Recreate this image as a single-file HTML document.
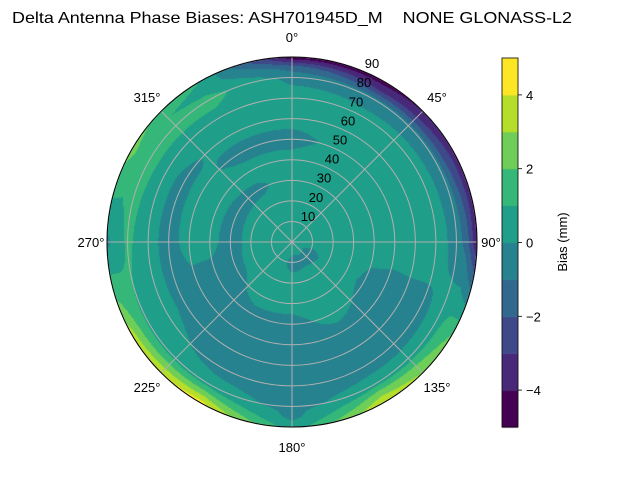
<!DOCTYPE html>
<html><head><meta charset="utf-8"><style>
body{margin:0;background:#fff;width:640px;height:480px;overflow:hidden;position:relative;font-family:"Liberation Sans",sans-serif}
canvas,svg{position:absolute;left:0;top:0}
</style></head><body>
<canvas id="cv" width="640" height="480"></canvas>
<svg id="sv" width="640" height="480"></svg>
<script>
// azimuth grid (deg, clockwise from top) and zenith grid (deg)
const azimuths=[0,30,60,90,120,150,180,210,240,270,300,330];
const zeniths=[0,10,20,30,40,50,60,70,80,85,90];
// bias values (mm) per azimuth row, across zeniths
const biasAz0  =[0.5,0.5,0.5,0.5,0.4,-0.4,0.4,0.5,-0.3,-1.5,-4.8];
const biasAz30 =[0.5,0.5,0.5,0.5,0.5,0.4,0.4,0.3,-0.5,-3.0,-4.5];
const biasAz60 =[0.5,0.5,0.5,0.5,0.5,0.5,0.5,0.4,-0.5,-2.5,-3.5];
const biasAz90 =[0.5,0.4,0.4,0.5,0.5,0.5,0.5,0.4,-0.3,-1.5,-4.0];
const biasAz120=[0.5,-0.3,0.3,0.5,-0.3,-0.5,-0.4,-0.3,0.4,1.5,2.0];
const biasAz150=[0.5,-0.2,0.4,0.5,0.4,-0.4,-0.5,-0.5,0.5,2.5,4.0];
const biasAz180=[0.5,-0.3,0.3,0.4,-0.4,-0.5,-0.5,-0.3,-0.3,-0.3,0.4];
const biasAz210=[0.5,0.3,0.4,0.4,-0.3,-0.5,-0.5,-0.4,0.5,2.5,4.5];
const biasAz240=[0.5,0.4,0.4,-0.3,-0.5,-0.5,-0.3,0.4,0.8,2.0,3.5];
const biasAz270=[0.5,0.4,0.3,-0.4,0.3,0.4,-0.4,0.4,1.2,0.5,-0.3];
const biasAz300=[0.5,0.4,0.3,-0.3,0.3,0.4,-0.3,0.4,1.5,1.5,2.5];
const biasAz330=[0.5,0.4,0.4,-0.2,0.4,-0.4,0.4,0.6,1.4,0.6,1.0];
const levels=[-5,-4,-3,-2,-1,0,1,2,3,4,5];
const colorbarTicks=[-4,-2,0,2,4];
const ringTicks=[10,20,30,40,50,60,70,80,90];
const angleTicks=[0,45,90,135,180,225,270,315];

const grid=[biasAz0,biasAz30,biasAz60,biasAz90,biasAz120,biasAz150,biasAz180,biasAz210,biasAz240,biasAz270,biasAz300,biasAz330];
const colors=['#440154','#482878','#3e4989','#31688e','#26828e','#1f9e89','#35b779','#6ece58','#b5de2b','#fde725'];
const cx=292,cy=242,R=185;
const rScale=z=>z/90*R;
function levelIndex(v){for(let i=levels.length-2;i>=0;i--){if(v>=levels[i])return Math.min(i,colors.length-1);}return 0;}
function sample(az,z){
  const n=azimuths.length, step=360/n;
  let a=((az%360)+360)%360; let i=Math.floor(a/step); let fa=(a-i*step)/step; let i2=(i+1)%n;
  let j=0; while(j<zeniths.length-2 && z>=zeniths[j+1]) j++;
  let fz=Math.min((z-zeniths[j])/(zeniths[j+1]-zeniths[j]),1);
  const v1=grid[i][j]*(1-fz)+grid[i][j+1]*fz, v2=grid[i2][j]*(1-fz)+grid[i2][j+1]*fz;
  return v1*(1-fa)+v2*fa;
}
const ctx=document.getElementById('cv').getContext('2d');
const rgb=colors.map(c=>[parseInt(c.substr(1,2),16),parseInt(c.substr(3,2),16),parseInt(c.substr(5,2),16)]);
const img=ctx.getImageData(0,0,640,480);
for(let y=cy-R-1;y<=cy+R+1;y++)for(let x=cx-R-1;x<=cx+R+1;x++){
  const dx=x+0.5-cx,dy=y+0.5-cy,r=Math.hypot(dx,dy); if(r>R)continue;
  const az=Math.atan2(dx,-dy)*180/Math.PI; const c=rgb[levelIndex(sample(az,r/R*90))];
  const k=(y*640+x)*4; img.data[k]=c[0];img.data[k+1]=c[1];img.data[k+2]=c[2];img.data[k+3]=255;
}
ctx.putImageData(img,0,0);
// colorbar
const cbX=502,cbW=16,cbTop=58,cbBot=427;
const cbY=v=>cbBot-(v-levels[0])/(levels[levels.length-1]-levels[0])*(cbBot-cbTop);
for(let i=0;i<colors.length;i++){ctx.fillStyle=colors[i];ctx.fillRect(cbX,cbY(levels[i+1]),cbW,cbY(levels[i])-cbY(levels[i+1])+0.5);}
const NS='http://www.w3.org/2000/svg',sv=document.getElementById('sv');
function el(t,a,txt){const e=document.createElementNS(NS,t);for(const k in a)e.setAttribute(k,a[k]);if(txt!==undefined)e.textContent=txt;sv.appendChild(e);return e;}
ringTicks.forEach(z=>{
  const c=el('circle',{cx:cx,cy:cy,r:rScale(z),fill:'none',stroke:'#b0b0b0','stroke-width':1});
  
  
});
angleTicks.forEach(a=>{
  const t=a*Math.PI/180;
  const l=el('line',{x1:cx,y1:cy,x2:cx+R*Math.sin(t),y2:cy-R*Math.cos(t),stroke:'#b0b0b0','stroke-width':1});
  
  
  const lr=R+20;
  const tx=el('text',{x:cx+lr*Math.sin(t)+(a===90?-6:a===270?4:0),y:cy-lr*Math.cos(t)+5,'text-anchor':'middle','font-size':13,fill:'#000'},a+'°');
  
  
});
const outer=el('circle',{cx:cx,cy:cy,r:R,fill:'none',stroke:'#000','stroke-width':1});


ringTicks.forEach((z,k)=>{
  const t=el('text',{x:300+8*(k+1),y:240-19.1*(k+1),'text-anchor':'middle','font-size':13,fill:'#000'},String(z));
  
  
});
const cbf=el('rect',{x:cbX,y:cbTop,width:cbW,height:cbBot-cbTop,fill:'none',stroke:'#000','stroke-width':0.8});


colorbarTicks.forEach(v=>{
  el('line',{x1:cbX+cbW,x2:cbX+cbW+4,y1:cbY(v),y2:cbY(v),stroke:'#000','stroke-width':0.8});
  const t=el('text',{x:cbX+cbW+8,y:cbY(v)+5,'font-size':13,fill:'#000'},(v<0?'\u2212'+(-v):String(v)));
  
  
});
const lab=el('text',{x:0,y:0,transform:'translate(567,242) rotate(-90)','text-anchor':'middle','font-size':13,fill:'#000'},'Bias (mm)');


const ti=el('text',{x:292,y:23,'text-anchor':'middle','font-size':16,fill:'#000',textLength:560,lengthAdjust:'spacingAndGlyphs'},'Delta Antenna Phase Biases: ASH701945D_M\u00a0\u00a0\u00a0\u00a0NONE GLONASS-L2');


</script>
</body></html>
